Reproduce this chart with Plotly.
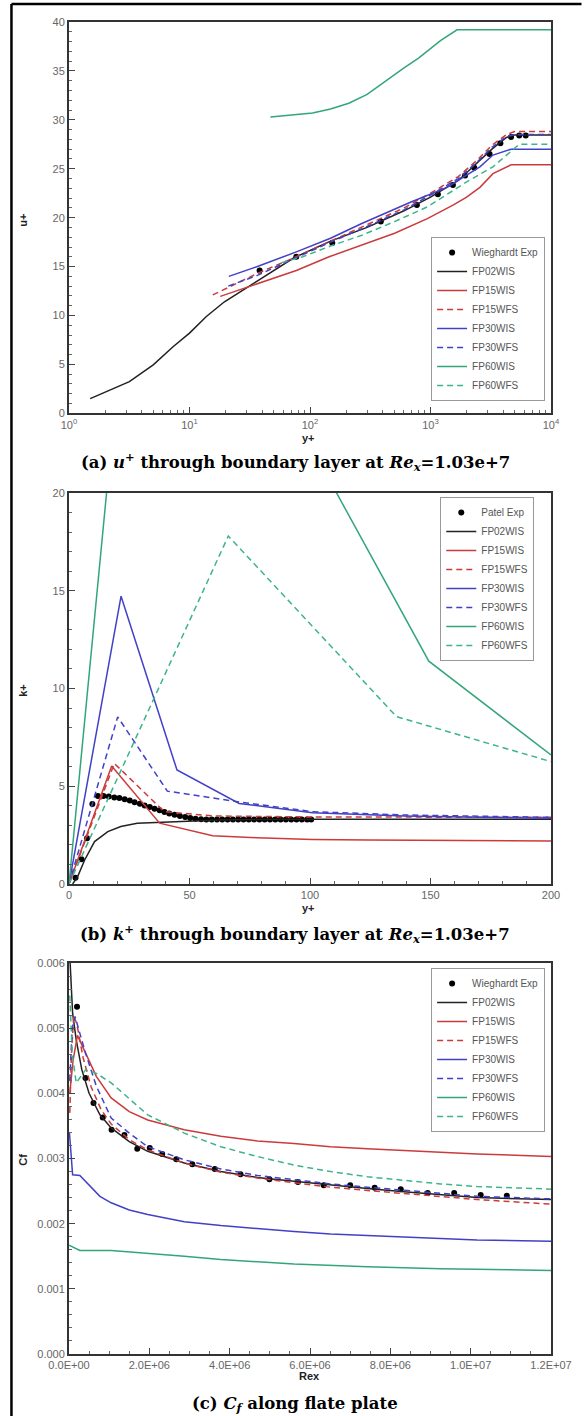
import plotly.graph_objects as go

# ---------------- (a) u+ vs y+ ----------------
a_exp_y = [38.2, 76.9, 153, 387, 771, 1151, 1535, 1936, 2306, 3090, 3800, 4660, 5450, 6170]
a_exp_u = [14.6, 16.0, 17.4, 19.6, 21.3, 22.4, 23.35, 24.3, 25.1, 26.5, 27.6, 28.25, 28.4, 28.4]

a_fp02wis_y = [1.5, 3.17, 5.0, 7.3, 10, 13.8, 19.5, 27.7, 36.6, 73.6, 148, 298, 603, 1000, 1700, 2450, 3230, 4270, 4900, 10000]
a_fp02wis_u = [1.5, 3.24, 4.95, 6.8, 8.2, 9.9, 11.4, 12.6, 13.5, 15.9, 17.6, 19.0, 20.7, 22.1, 23.8, 25.6, 27.0, 28.2, 28.45, 28.45]

a_fp15wis_y = [18, 25.8, 36.6, 77, 144, 269, 504, 942, 1550, 1995, 2570, 3300, 4660, 10000]
a_fp15wis_u = [11.95, 12.6, 13.2, 14.6, 16.0, 17.2, 18.4, 19.9, 21.3, 22.1, 23.1, 24.5, 25.4, 25.4]

a_fp15wfs_y = [15.6, 25, 36.6, 73.6, 148, 298, 603, 1000, 1700, 2450, 3230, 4270, 5000, 10000]
a_fp15wfs_u = [12.1, 13.3, 14.3, 15.9, 17.6, 19.3, 21.0, 22.5, 24.2, 25.9, 27.4, 28.5, 28.8, 28.8]

a_fp30wis_y = [21.2, 36.6, 77, 148, 269, 689, 1371, 2570, 3300, 4660, 10000]
a_fp30wis_u = [14.0, 15.0, 16.5, 17.9, 19.4, 21.6, 23.1, 25.2, 26.4, 27.0, 27.0]

a_fp30wfs_y = [21, 36.6, 73.6, 148, 298, 603, 1000, 1700, 2450, 3230, 4270, 5000, 10000]
a_fp30wfs_u = [13.0, 14.1, 15.8, 17.5, 19.1, 20.8, 22.3, 24.0, 25.7, 27.2, 28.3, 28.5, 28.5]

a_fp60wis_y = [46.9, 105, 148, 210, 298, 427, 603, 796, 1210, 1660, 10000]
a_fp60wis_u = [30.3, 30.7, 31.1, 31.7, 32.6, 34.0, 35.3, 36.3, 38.1, 39.2, 39.2]

a_fp60wfs_y = [58, 87, 148, 269, 503, 942, 1995, 3300, 5450, 10000]
a_fp60wfs_u = [15.4, 16.0, 17.1, 18.2, 19.6, 21.1, 23.65, 25.2, 27.5, 27.5]

a_tickvals = [1, 10, 100, 1000, 10000]
a_ticktext = ["10<sup>0</sup>", "10<sup>1</sup>", "10<sup>2</sup>", "10<sup>3</sup>", "10<sup>4</sup>"]
a_minor = [2, 3, 4, 5, 6, 7, 8, 9, 20, 30, 40, 50, 60, 70, 80, 90,
           200, 300, 400, 500, 600, 700, 800, 900, 2000, 3000, 4000, 5000, 6000, 7000, 8000, 9000]

# ---------------- (b) k+ vs y+ ----------------
b_exp_y = [2.7, 5.2, 7.5, 9.7, 12.0, 14.3, 16.5, 18.8, 20.9, 23.1, 25.2, 27.2, 29.4, 31.4, 33.5,
           35.5, 37.6, 39.6, 41.6, 43.8, 46.0, 48.2, 50.3, 52.5, 54.8, 57.0, 59.2, 61.4, 63.6,
           65.8, 68.0, 70.2, 72.4, 74.6, 76.8, 79.0, 81.2, 83.4, 85.6, 87.8, 90.0, 92.2, 94.4,
           96.6, 98.8, 100.5]
b_exp_k = [0.32, 1.26, 2.34, 4.09, 4.5, 4.5, 4.47, 4.43, 4.40, 4.33, 4.27, 4.18, 4.11, 4.02, 3.94,
           3.85, 3.77, 3.68, 3.61, 3.54, 3.48, 3.43, 3.37, 3.34, 3.31, 3.30, 3.30, 3.30, 3.30,
           3.30, 3.30, 3.30, 3.30, 3.30, 3.30, 3.30, 3.30, 3.30, 3.30, 3.30, 3.30, 3.30, 3.30,
           3.30, 3.30, 3.30]

b_fp02wis_y = [1.5, 3.5, 6.5, 10.6, 16.1, 21.5, 28.3, 37.6, 48.7, 62.3, 92, 200]
b_fp02wis_k = [0.0, 0.35, 1.23, 2.17, 2.68, 2.94, 3.11, 3.16, 3.22, 3.28, 3.31, 3.31]

b_fp15wis_y = [0, 17.7, 37.6, 59.6, 78, 101, 124, 154, 200]
b_fp15wis_k = [0, 6.04, 3.11, 2.47, 2.37, 2.28, 2.25, 2.22, 2.2]

b_fp15wfs_y = [0, 18.8, 39.5, 60, 100, 200]
b_fp15wfs_k = [0, 6.17, 3.7, 3.48, 3.43, 3.41]

b_fp30wis_y = [0, 21.6, 44.8, 70.6, 101, 139, 200]
b_fp30wis_k = [0, 14.72, 5.83, 4.12, 3.65, 3.48, 3.36]

b_fp30wfs_y = [0, 20.2, 40.8, 70.5, 101, 139, 200]
b_fp30wfs_k = [0, 8.55, 4.75, 4.2, 3.7, 3.53, 3.41]

b_fp60wis_y = [0, 24, 75, 149.3, 200]
b_fp60wis_k = [0, 30.8, 28.1, 11.4, 6.6]

b_fp60wfs_y = [0, 66.1, 135.9, 200]
b_fp60wfs_k = [0, 17.8, 8.56, 6.26]

# ---------------- (c) Cf vs Rex ----------------
c_exp_x = [0.2e6, 0.41e6, 0.61e6, 0.84e6, 1.06e6, 1.38e6, 1.7e6, 2.01e6, 2.32e6, 2.67e6, 3.07e6,
           3.63e6, 4.27e6, 4.99e6, 5.70e6, 6.34e6, 7.0e6, 7.61e6, 8.26e6, 8.93e6, 9.59e6, 10.25e6, 10.9e6]
c_exp_cf = [5.33e-3, 4.235e-3, 3.85e-3, 3.63e-3, 3.44e-3, 3.36e-3, 3.15e-3, 3.16e-3, 3.07e-3, 2.99e-3,
            2.91e-3, 2.84e-3, 2.76e-3, 2.68e-3, 2.64e-3, 2.59e-3, 2.59e-3, 2.55e-3, 2.53e-3, 2.47e-3,
            2.47e-3, 2.44e-3, 2.43e-3]

c_fp02wis_x = [0.02e6, 0.09e6, 0.18e6, 0.32e6, 0.5e6, 0.77e6, 1.05e6, 1.5e6, 1.96e6, 2.87e6, 3.78e6,
               4.69e6, 5.6e6, 6.51e6, 7.43e6, 8.34e6, 9.25e6, 10.16e6, 12.0e6]
c_fp02wis_cf = [6.1e-3, 5.23e-3, 4.82e-3, 4.36e-3, 4.0e-3, 3.67e-3, 3.47e-3, 3.26e-3, 3.11e-3, 2.93e-3,
                2.80e-3, 2.71e-3, 2.65e-3, 2.59e-3, 2.54e-3, 2.49e-3, 2.44e-3, 2.40e-3, 2.37e-3]

c_fp15wis_x = [0.02e6, 0.1e6, 0.21e6, 0.41e6, 0.68e6, 1.05e6, 1.5e6, 1.96e6, 2.87e6, 3.78e6, 4.69e6,
               5.6e6, 6.51e6, 7.43e6, 8.34e6, 9.25e6, 10.16e6, 12.0e6]
c_fp15wis_cf = [4.0e-3, 4.5e-3, 4.89e-3, 4.62e-3, 4.26e-3, 3.93e-3, 3.72e-3, 3.59e-3, 3.44e-3, 3.34e-3,
                3.27e-3, 3.23e-3, 3.18e-3, 3.15e-3, 3.12e-3, 3.09e-3, 3.07e-3, 3.03e-3]

c_fp15wfs_x = [0.02e6, 0.06e6, 0.12e6, 0.2e6, 0.35e6, 0.55e6, 0.8e6, 1.05e6, 1.5e6, 1.96e6, 2.87e6,
               3.78e6, 4.69e6, 5.6e6, 6.51e6, 7.43e6, 8.34e6, 9.25e6, 10.16e6, 12.0e6]
c_fp15wfs_cf = [3.7e-3, 4.6e-3, 5.2e-3, 5.05e-3, 4.55e-3, 4.1e-3, 3.75e-3, 3.53e-3, 3.29e-3, 3.13e-3,
                2.93e-3, 2.79e-3, 2.70e-3, 2.63e-3, 2.56e-3, 2.51e-3, 2.46e-3, 2.41e-3, 2.37e-3, 2.30e-3]

c_fp30wis_x = [0.01e6, 0.09e6, 0.27e6, 0.5e6, 0.77e6, 1.05e6, 1.5e6, 1.96e6, 2.87e6, 3.78e6, 4.69e6,
               5.6e6, 6.51e6, 7.43e6, 8.34e6, 9.25e6, 10.16e6, 12.0e6]
c_fp30wis_cf = [3.4e-3, 2.75e-3, 2.74e-3, 2.6e-3, 2.42e-3, 2.32e-3, 2.21e-3, 2.14e-3, 2.03e-3, 1.97e-3,
                1.92e-3, 1.88e-3, 1.84e-3, 1.82e-3, 1.79e-3, 1.77e-3, 1.75e-3, 1.73e-3]

c_fp30wfs_x = [0.02e6, 0.08e6, 0.15e6, 0.25e6, 0.41e6, 0.68e6, 1.05e6, 1.5e6, 1.96e6, 2.87e6, 3.78e6,
               4.69e6, 5.6e6, 6.51e6, 7.43e6, 8.34e6, 9.25e6, 10.16e6, 12.0e6]
c_fp30wfs_cf = [4.2e-3, 5.0e-3, 5.18e-3, 4.95e-3, 4.62e-3, 4.11e-3, 3.62e-3, 3.39e-3, 3.18e-3, 2.98e-3,
                2.84e-3, 2.74e-3, 2.67e-3, 2.61e-3, 2.56e-3, 2.51e-3, 2.46e-3, 2.42e-3, 2.38e-3]

c_fp60wis_x = [0.0, 0.27e6, 1.05e6, 1.96e6, 2.87e6, 3.78e6, 4.69e6, 5.6e6, 7.43e6, 9.25e6, 12.0e6]
c_fp60wis_cf = [1.67e-3, 1.59e-3, 1.59e-3, 1.55e-3, 1.50e-3, 1.45e-3, 1.41e-3, 1.38e-3, 1.34e-3, 1.31e-3, 1.28e-3]

c_fp60wfs_x = [0.02e6, 0.08e6, 0.18e6, 0.41e6, 0.7e6, 1.05e6, 1.96e6, 2.87e6, 3.78e6, 4.69e6, 5.6e6,
               6.51e6, 7.43e6, 8.34e6, 9.25e6, 10.16e6, 12.0e6]
c_fp60wfs_cf = [5.5e-3, 4.6e-3, 4.16e-3, 4.36e-3, 4.3e-3, 4.16e-3, 3.67e-3, 3.39e-3, 3.18e-3, 3.03e-3,
                2.90e-3, 2.80e-3, 2.72e-3, 2.66e-3, 2.61e-3, 2.57e-3, 2.53e-3]

c_xtickvals = [0, 2e6, 4e6, 6e6, 8e6, 10e6, 12e6]
c_xticktext = ["0.0E+00", "2.0E+06", "4.0E+06", "6.0E+06", "8.0E+06", "1.0E+07", "1.2E+07"]
c_ytickvals = [0, 0.001, 0.002, 0.003, 0.004, 0.005, 0.006]
c_yticktext = ["0.000", "0.001", "0.002", "0.003", "0.004", "0.005", "0.006"]

names = ["FP02WIS", "FP15WIS", "FP15WFS", "FP30WIS", "FP30WFS", "FP60WIS", "FP60WFS"]

# ---------------- styles ----------------
BLACK = "#222222"
RED = "#cc3b3b"
BLUE = "#4141c8"
GREEN = "#33a679"
GREEN_D = "#3db48a"
DASH = "6px,4px"
styles = [
    (BLACK, "solid"), (RED, "solid"), (RED, DASH), (BLUE, "solid"),
    (BLUE, DASH), (GREEN, "solid"), (GREEN_D, DASH),
]

fig = go.Figure()


def add_panel(exp_x, exp_y, exp_name, series, xa, ya, leg):
    fig.add_trace(go.Scatter(
        x=exp_x, y=exp_y, mode="markers", name=exp_name,
        marker=dict(color="black", size=6),
        xaxis=xa, yaxis=ya, legend=leg, cliponaxis=True))
    for (sx, sy), nm, (col, dsh) in zip(series, names, styles):
        fig.add_trace(go.Scatter(
            x=sx, y=sy, mode="lines", name=nm,
            line=dict(color=col, width=1.5, dash=dsh),
            xaxis=xa, yaxis=ya, legend=leg))


add_panel(a_exp_y, a_exp_u, "Wieghardt Exp", [
    (a_fp02wis_y, a_fp02wis_u), (a_fp15wis_y, a_fp15wis_u), (a_fp15wfs_y, a_fp15wfs_u),
    (a_fp30wis_y, a_fp30wis_u), (a_fp30wfs_y, a_fp30wfs_u), (a_fp60wis_y, a_fp60wis_u),
    (a_fp60wfs_y, a_fp60wfs_u)], "x", "y", "legend")

add_panel(b_exp_y, b_exp_k, "Patel Exp", [
    (b_fp02wis_y, b_fp02wis_k), (b_fp15wis_y, b_fp15wis_k), (b_fp15wfs_y, b_fp15wfs_k),
    (b_fp30wis_y, b_fp30wis_k), (b_fp30wfs_y, b_fp30wfs_k), (b_fp60wis_y, b_fp60wis_k),
    (b_fp60wfs_y, b_fp60wfs_k)], "x2", "y2", "legend2")

add_panel(c_exp_x, c_exp_cf, "Wieghardt Exp", [
    (c_fp02wis_x, c_fp02wis_cf), (c_fp15wis_x, c_fp15wis_cf), (c_fp15wfs_x, c_fp15wfs_cf),
    (c_fp30wis_x, c_fp30wis_cf), (c_fp30wfs_x, c_fp30wfs_cf), (c_fp60wis_x, c_fp60wis_cf),
    (c_fp60wfs_x, c_fp60wfs_cf)], "x3", "y3", "legend3")

TICKFONT = dict(family="Liberation Sans, Arial, sans-serif", size=11, color="#666666")
base_axis = dict(showline=True, linewidth=2, linecolor="#333333", mirror=True,
                 ticks="inside", ticklen=6, tickwidth=1, tickcolor="#444444",
                 showgrid=False, zeroline=False, tickfont=TICKFONT)


def minor_lin(d):
    return dict(dtick=d, ticks="inside", ticklen=3, tickwidth=1, tickcolor="#666666", showgrid=False)


W, H = 584, 1416
ML, MR, MT, MB = 69, 25, 22, 62
PW, PH = W - ML - MR, H - MT - MB


def py(ypix):
    return (H - MB - ypix) / PH


def px(xpix):
    return (xpix - ML) / PW


fig.update_layout(
    width=W, height=H,
    margin=dict(l=ML, r=MR, t=MT, b=MB),
    paper_bgcolor="white", plot_bgcolor="white",
    showlegend=True,
    xaxis=dict(base_axis, type="log", range=[0, 4], domain=[0, 1], anchor="y",
               tickmode="array", tickvals=a_tickvals, ticktext=a_ticktext,
               minor=dict(tickmode="array", tickvals=a_minor, ticks="inside", ticklen=3,
                          tickwidth=1, tickcolor="#666666", showgrid=False)),
    yaxis=dict(base_axis, range=[0, 40], domain=[py(413.3), 1], anchor="x",
               tickmode="linear", tick0=0, dtick=5, minor=minor_lin(1)),
    xaxis2=dict(base_axis, range=[0, 200], domain=[0, 1], anchor="y2",
                tickmode="linear", tick0=0, dtick=50, minor=minor_lin(10)),
    yaxis2=dict(base_axis, range=[0, 20], domain=[py(884), py(493)], anchor="x2",
                tickmode="linear", tick0=0, dtick=5, minor=minor_lin(1)),
    xaxis3=dict(base_axis, range=[0, 1.2e7], domain=[0, 1], anchor="y3",
                tickmode="array", tickvals=c_xtickvals, ticktext=c_xticktext,
                minor=minor_lin(5e5)),
    yaxis3=dict(base_axis, range=[0, 0.006], domain=[0, py(963)], anchor="x3",
                tickmode="array", tickvals=c_ytickvals, ticktext=c_yticktext,
                minor=minor_lin(0.0002)),
)

LEGFONT = dict(family="Liberation Sans, Arial, sans-serif", size=10, color="#555555")
legend_common = dict(bgcolor="white", bordercolor="#999999", borderwidth=1, font=LEGFONT,
                     itemwidth=30, tracegroupgap=0, itemclick=False, itemdoubleclick=False)
fig.update_layout(
    legend=dict(legend_common, x=px(553), y=py(401), xanchor="right", yanchor="bottom"),
    legend2=dict(legend_common, x=px(542), y=py(497), xanchor="right", yanchor="top"),
    legend3=dict(legend_common, x=px(553), y=py(968), xanchor="right", yanchor="top"),
)

# axis titles and captions
TITLEFONT = dict(family="Liberation Sans, Arial, sans-serif", size=11, color="#222222")
CAPFONT = dict(family="DejaVu Serif, serif", size=16.5, color="black")
ann = []
for text, xp, yp, rot in [
    ("<b>u+</b>", 22, 220, -90), ("<b>y+</b>", 312, 438, 0),
    ("<b>k+</b>", 22, 690, -90), ("<b>y+</b>", 312, 908, 0),
    ("<b>Cf</b>", 22, 1160, -90), ("<b>Rex</b>", 313, 1376, 0),
]:
    ann.append(dict(text=text, x=px(xp), y=py(yp), xref="paper", yref="paper",
                    showarrow=False, textangle=rot, font=TITLEFONT,
                    xanchor="center", yanchor="middle"))
for text, yp in [
    ("<b>(a) <i>u</i><sup>+</sup> through boundary layer at <i>Re<sub>x</sub></i>=1.03e+7</b>", 462),
    ("<b>(b) <i>k</i><sup>+</sup> through boundary layer at <i>Re<sub>x</sub></i>=1.03e+7</b>", 934),
    ("<b>(c) <i>C<sub>f</sub></i> along flate plate</b>", 1404),
]:
    ann.append(dict(text=text, x=px(299), y=py(yp), xref="paper", yref="paper",
                    showarrow=False, font=CAPFONT, xanchor="center", yanchor="middle"))
fig.update_layout(annotations=ann)

# outer frame (left and top edges of the figure box)
fig.add_shape(type="line", xref="paper", yref="paper", x0=px(10.5), x1=px(10.5), y0=py(4), y1=py(1420),
              line=dict(color="black", width=2.5))
fig.add_shape(type="line", xref="paper", yref="paper", x0=px(10.5), x1=px(590), y0=py(4), y1=py(4),
              line=dict(color="black", width=2.5))

fig.write_html("out.html", config={"displayModeBar": False},
               post_script="document.body.style.margin='0px';")
